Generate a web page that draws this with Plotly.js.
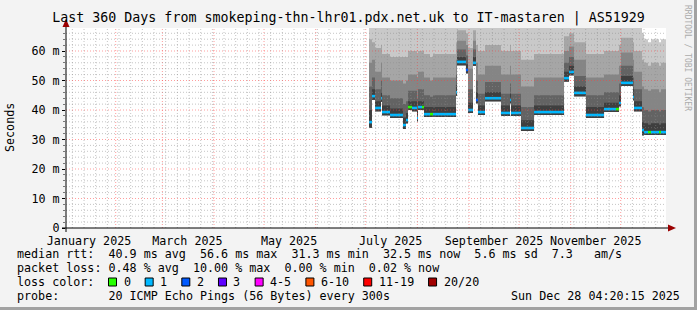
<!DOCTYPE html>
<html><head><meta charset="utf-8">
<script src="https://cdn.plot.ly/plotly-3.0.1.min.js"></script>
<style>
html,body{margin:0;padding:0;background:#f3f3f3;}
#chart{width:697px;height:310px;}
</style></head><body>
<div id="chart"></div>
<script>
// ---------------- data ----------------
const segStart = ['2025-07-03 00:00','2025-07-04 18:00','2025-07-06 14:00','2025-07-10 04:00','2025-07-10 19:00','2025-07-15 14:00','2025-07-23 09:00','2025-07-25 04:00','2025-07-26 09:00','2025-07-28 19:00','2025-07-31 19:00','2025-08-01 09:00','2025-08-03 19:00','2025-08-05 00:00','2025-08-08 14:00','2025-08-10 09:00','2025-08-24 04:00','2025-08-24 19:00','2025-08-30 04:00','2025-08-31 09:00','2025-09-03 09:00','2025-09-05 04:00','2025-09-06 09:00','2025-09-10 14:00','2025-09-20 04:00','2025-09-25 14:00','2025-09-26 04:00','2025-10-02 04:00','2025-10-10 00:00','2025-10-28 00:00','2025-10-31 00:00','2025-11-03 00:00','2025-11-10 04:00','2025-11-21 00:00','2025-11-28 04:00','2025-11-30 00:00','2025-12-01 04:00','2025-12-08 09:00','2025-12-09 00:00','2025-12-13 19:00','2025-12-15 00:00','2025-12-17 09:00','2025-12-19 04:00','2025-12-24 00:00','2025-12-25 04:00'];
const rangeStart = '2025-01-02 04:20';
const endTime = '2025-12-28 04:20';
// median rtt (ms)
const median = [35.9,44.7,40.7,44.0,39.3,38.3,34.9,36.6,41.0,40.7,37.3,41.0,41.0,38.6,38.6,38.6,46.0,56.3,53.6,40.0,56.0,43.4,39.3,44.0,39.0,43.4,39.0,33.9,39.3,50.8,52.9,45.8,38.3,40.3,40.3,42.4,49.2,44.4,40.7,33.2,32.5,32.5,32.5,32.5,32.5];
// lowest ping (ms)
const minPing = [34.0,43.5,39.6,42.8,38.2,37.3,33.6,35.5,40.0,39.6,36.2,40.0,40.0,37.6,37.6,37.6,44.8,55.2,52.5,39.0,55.0,42.3,38.3,43.0,38.0,42.3,38.0,32.9,38.3,49.7,51.8,44.7,37.3,39.3,39.3,41.3,48.1,43.3,39.6,31.4,31.5,31.5,31.5,31.6,31.5];
// upper smoke levels (ms), inner -> outer
const smoke1 = [40,47,43,46,41.5,40.5,37.5,39,43,43,40,43,43,41,41,41,48.5,58,55.5,42.5,58,46,41.5,46,41.5,45.5,41.5,36.5,41.5,53,55,48,41,42.5,42.5,45,51.5,47,43,36,35.5,35,35.5,35,35.5];
const smoke2 = [48,51,47,50,45,44,42,43,46.5,46.5,44,47,47,45,44.5,45,52,60.5,58.5,47,60.5,50,45.5,49.5,45.5,49,45.5,41,45,56,58,51.5,45,46,46,49,55,51,47,41,40,39.5,40,39.5,40];
const smoke3 = [56,57,53,56,51,50,49,50,52,52,51,53,53,51,50,51,57,63.5,62,54,63.5,56,52,55,52,55,52,48,51,60,61.5,57,51,52,52,55,59.5,57,53,48,47,46.5,47,46,47];
const smoke4 = [64,63,61,62,59,58,58,58,60,60,59,60,60,59,58,59,63,67,66,61,67,62,60,62,60,62,60,57,59,65,66,63,59,60,60,62,64.5,63,60,57,56,55,56,55,56];
const smoke5 = [70,70,70,70,70,70,70,70,70,70,70,70,70,70,70,70,70,70,70,70,70,70,70,70,70,70,70,70,70,70,70,70,70,70,70,70,70,70,70,66,64,63,64,63,64];
// loss bucket index per segment (0 -> "0", 1 -> "1", 2 -> "2" ...)
const lossBucket = [1,1,1,1,1,1,1,1,0,1,1,1,0,1,0,1,1,1,2,1,1,2,1,1,1,1,1,1,1,1,1,1,1,1,0,1,1,1,1,1,1,0,1,0,1];
const lossLabels = ['0','1','2','3','4-5','6-10','11-19','20/20'];
const lossColors = ['#26ff00','#00b8ff','#0059ff','#5e00ff','#ff00ff','#ff5500','#ff0000','#a10000'];
const yTickVals = [0,10,20,30,40,50,60];
const yTickText = ['0','10 m','20 m','30 m','40 m','50 m','60 m'];
const monthLabels = ['January 2025','March 2025','May 2025','July 2025','September 2025','November 2025'];
const monthLabelDates = ['2025-01-16','2025-03-16','2025-05-16','2025-07-16','2025-09-16','2025-11-16'];
const titleText = 'Last 360 Days from smokeping-thn-lhr01.pdx.net.uk to IT-mastaren | AS51929';
const rttLine = 'median rtt:  40.9 ms avg  56.6 ms max  31.3 ms min  32.5 ms now  5.6 ms sd  7.3   am/s';
const lossLine = 'packet loss: 0.48 % avg  10.00 % max  0.00 % min  0.02 % now';
const lossColorLabel = 'loss color:';
const probeLine = 'probe:       20 ICMP Echo Pings (56 Bytes) every 300s';
const stampText = 'Sun Dec 28 04:20:15 2025';
const yAxisLabel = 'Seconds';
const sideText = 'RRDTOOL / TOBI OETIKER';

// ---------------- geometry helpers ----------------
const W = 697, H = 310, ML = 66, MR = 31, MT = 28, MB = 82;
const PW = W - ML - MR, PH = H - MT - MB;
const px = x => (x - ML) / PW;
const py = y => (H - MB - y) / PH;
const FONT = 'DejaVu Sans Mono';
const nb = s => s.replace(/ /g, '\u00a0');

// ---------------- traces ----------------
const xs = segStart.concat([endTime]);
const ext = a => a.concat([a[a.length - 1]]);
const traces = [];
const bands = [[smoke5,'#c9c9c9'],[smoke4,'#a6a6a6'],[smoke3,'#858585'],[smoke2,'#636363'],[smoke1,'#3f3f3f']];
bands.forEach(([arr, col]) => {
  traces.push({x: xs, y: ext(minPing), type: 'scatter', mode: 'lines', line: {width: 0, shape: 'hv'}, hoverinfo: 'skip', showlegend: false});
  traces.push({x: xs, y: ext(arr), type: 'scatter', mode: 'lines', line: {width: 0, shape: 'hv'}, fill: 'tonexty', fillcolor: col, hoverinfo: 'skip', showlegend: false});
});
lossColors.forEach((col, b) => {
  const x = [], y = [];
  for (let i = 0; i < segStart.length; i++) {
    if (lossBucket[i] !== b) continue;
    x.push(xs[i], xs[i + 1], null);
    y.push(median[i], median[i], null);
  }
  if (x.length) traces.push({x, y, type: 'scatter', mode: 'lines', line: {width: 2.6, color: col}, connectgaps: false, hoverinfo: 'skip', showlegend: false});
});

// ---------------- grid & decorations (shapes) ----------------
const shapes = [];
const minorCol = 'rgba(140,140,140,0.5)', majorCol = 'rgba(255,60,60,0.5)';
for (let t = Date.UTC(2025,0,6); t < Date.UTC(2025,11,28); t += 7*86400000) {
  const d = new Date(t).toISOString().slice(0,10);
  if (d.slice(8) === '01') continue;
  shapes.push({type:'line', xref:'x', yref:'paper', x0:d, x1:d, y0:0, y1:1, layer:'above', line:{color:minorCol, width:1, dash:'1px,2px'}});
}
for (let m = 2; m <= 12; m++) {
  const d = '2025-' + String(m).padStart(2,'0') + '-01';
  shapes.push({type:'line', xref:'x', yref:'paper', x0:d, x1:d, y0:0, y1:1, layer:'above', line:{color:majorCol, width:1, dash:'1px,2px'}});
}
for (let v = 2; v <= 66; v += 2) {
  const major = v % 10 === 0;
  shapes.push({type:'line', xref:'paper', yref:'y', x0:0, x1:1, y0:v, y1:v, layer:'above', line:{color: major ? majorCol : minorCol, width:1, dash:'1px,2px'}});
}
// axes
shapes.push({type:'line', xref:'paper', yref:'paper', x0:px(62), x1:px(669), y0:0, y1:0, layer:'above', line:{color:'#000', width:1}});
shapes.push({type:'line', xref:'paper', yref:'paper', x0:0, x1:0, y0:py(232), y1:py(26), layer:'above', line:{color:'#000', width:1}});
shapes.push({type:'path', xref:'paper', yref:'paper', layer:'above', fillcolor:'#9b0000', line:{width:0},
  path:`M ${px(66)},${py(19)} L ${px(62.5)},${py(27)} L ${px(69.5)},${py(27)} Z`});
shapes.push({type:'path', xref:'paper', yref:'paper', layer:'above', fillcolor:'#9b0000', line:{width:0},
  path:`M ${px(676)},${py(228)} L ${px(668)},${py(224.5)} L ${px(668)},${py(231.5)} Z`});
// frame shadow
shapes.push({type:'rect', xref:'paper', yref:'paper', x0:px(694), x1:px(700), y0:py(312), y1:py(-2), fillcolor:'#a2a2a2', line:{width:0}, layer:'above'});
shapes.push({type:'rect', xref:'paper', yref:'paper', x0:px(-2), x1:px(700), y0:py(312), y1:py(307), fillcolor:'#a2a2a2', line:{width:0}, layer:'above'});

// ---------------- annotations ----------------
const ann = [];
const txt = (text, x, y, anchor, extra) => ann.push(Object.assign({text: nb(text), xref:'paper', yref:'paper', x: px(x), y: py(y), xanchor: anchor, yanchor:'middle', showarrow:false, borderpad:0, font:{family:FONT, size:11.7, color:'#000'}}, extra || {}));
txt(yAxisLabel, 10, 128, 'center', {textangle:-90});
txt(sideText, 688, 58, 'center', {textangle:90, font:{family:FONT, size:8, color:'#ababab'}});
txt(rttLine, 16, 254, 'left');
txt(lossLine, 16, 268, 'left');
txt(lossColorLabel, 16, 282, 'left');
txt(probeLine, 16, 296, 'left');
txt(stampText, 681, 296, 'right');
let bx = 108.5;
lossLabels.forEach((lab, i) => {
  shapes.push({type:'rect', xref:'paper', yref:'paper', x0:px(bx), x1:px(bx+8), y0:py(286), y1:py(278), fillcolor:lossColors[i], line:{color:'#000', width:1}, layer:'above'});
  txt(lab, bx + 14, 282, 'left');
  bx += (4.2 + lab.length) * 7.05;
});

const layout = {
  width: W, height: H,
  margin: {l: ML, r: MR, t: MT, b: MB, pad: 0},
  paper_bgcolor: '#f3f3f3', plot_bgcolor: '#ffffff',
  showlegend: false,
  title: {text: titleText, x: 0.5, xanchor: 'center', y: 1 - 17/H, yanchor: 'middle', font: {family: FONT, size: 13.3, color: '#000'}},
  xaxis: {type:'date', range:[rangeStart, endTime], tickvals: monthLabelDates, ticktext: monthLabels, showgrid:false, zeroline:false, showline:false, ticks:'', ticklabelstandoff: 4, tickfont:{family:FONT, size:11.7, color:'#000'}, fixedrange:true},
  yaxis: {range:[0, 67.8], tickvals: yTickVals, ticktext: yTickText, showgrid:false, zeroline:false, showline:false, ticks:'outside', ticklen:3, tickcolor:'#000', tickfont:{family:FONT, size:11.7, color:'#000'},
    minor:{dtick:2, tick0:0, ticks:'outside', ticklen:2, tickcolor:'#777', showgrid:false}, fixedrange:true},
  shapes, annotations: ann
};
Plotly.newPlot('chart', traces, layout, {staticPlot:true, displayModeBar:false});
</script>
</body></html>
